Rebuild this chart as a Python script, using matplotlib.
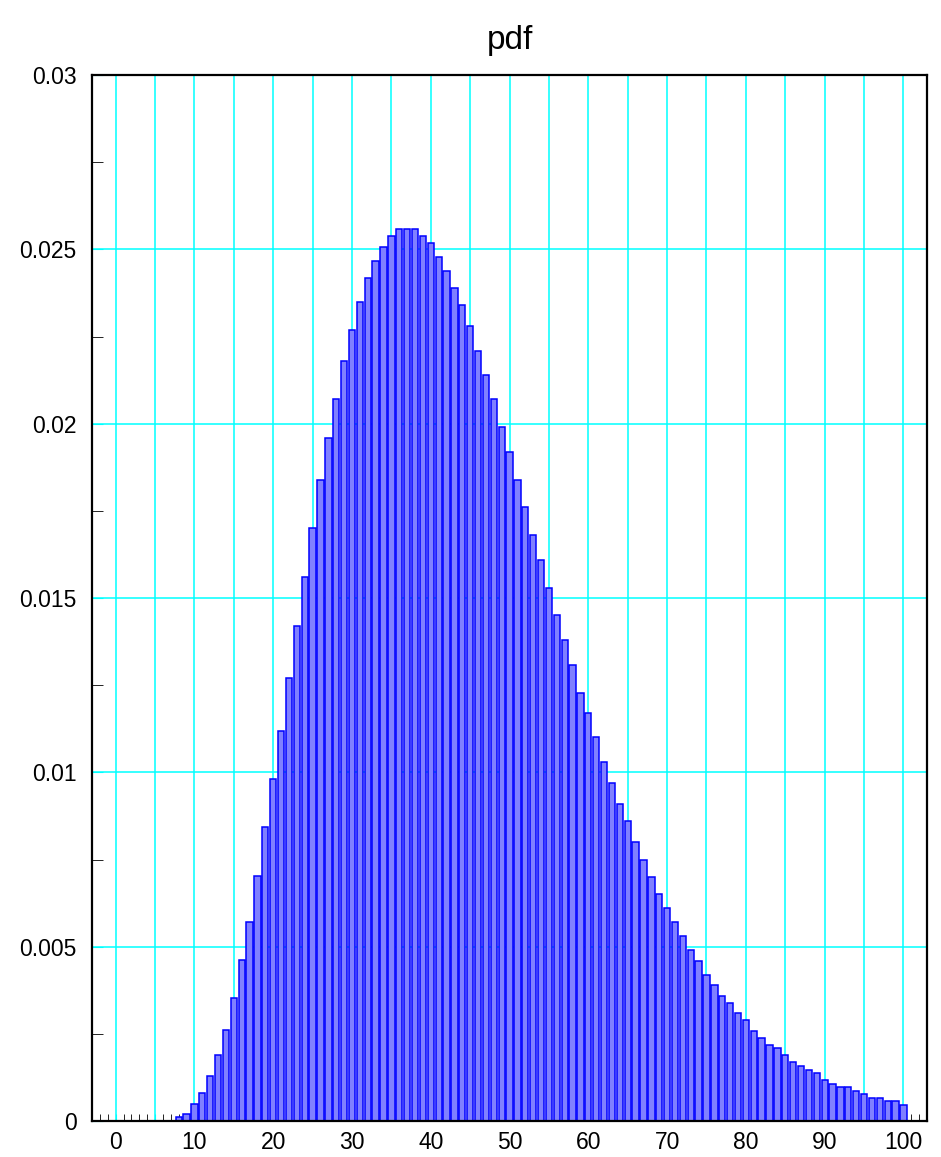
import matplotlib
matplotlib.use('Agg')
import matplotlib.pyplot as plt
from matplotlib.ticker import MultipleLocator

plt.rcParams['font.family'] = ['Liberation Sans', 'DejaVu Sans']

# bin centres and estimated pdf values
x = list(range(8, 101))
pdf = [0.00011, 0.0002, 0.0005, 0.0008, 0.0013, 0.0019, 0.00262, 0.00353, 0.00462, 0.00572,
       0.00702, 0.00842, 0.0098, 0.01119, 0.0127, 0.0142, 0.01559, 0.0170, 0.01839, 0.0196,
       0.0207, 0.0218, 0.02269, 0.02348, 0.02418, 0.02468, 0.02508, 0.02538, 0.02558, 0.02558,
       0.02558, 0.02538, 0.02518, 0.02479, 0.02438, 0.02388, 0.0234, 0.0228, 0.02209, 0.0214,
       0.0207, 0.0199, 0.0192, 0.0184, 0.01761, 0.0168, 0.0161, 0.0153, 0.01451, 0.0138,
       0.01309, 0.01229, 0.0117, 0.01102, 0.01031, 0.0097, 0.0091, 0.0086, 0.0080, 0.0075,
       0.0070, 0.0065, 0.0061, 0.0057, 0.0053, 0.0049, 0.0046, 0.0042, 0.0039, 0.0036,
       0.00339, 0.00309, 0.00289, 0.00259, 0.00239, 0.00219, 0.00208, 0.00188, 0.00168, 0.00158,
       0.00147, 0.00138, 0.00118, 0.00107, 0.00097, 0.00097, 0.00087, 0.00077, 0.00067, 0.00067,
       0.00057, 0.00057, 0.00047]

xticks = list(range(0, 101, 5))
xlabels = [str(v) if v % 10 == 0 else '' for v in xticks]
yticks = [0, 0.005, 0.01, 0.015, 0.02, 0.025, 0.03]
ylabels = ['0', '0.005', '0.01', '0.015', '0.02', '0.025', '0.03']

fig = plt.figure(figsize=(9.41, 11.57), dpi=100)
ax = fig.add_axes([0.0978, 0.0311, 0.8874, 0.904])

ax.bar(x, pdf, width=0.8, color=(0.5, 0.5, 1.0), edgecolor='blue', linewidth=1.1)

ax.set_xlim(-3, 103)
ax.set_ylim(0, 0.03)
ax.set_xticks(xticks)
ax.set_xticklabels(xlabels)
ax.set_yticks(yticks)
ax.set_yticklabels(ylabels)
ax.xaxis.set_minor_locator(MultipleLocator(1))
ax.yaxis.set_minor_locator(MultipleLocator(0.0025))

ax.set_axisbelow(True)
ax.grid(True, which='major', color='cyan', linewidth=1.1)

ax.tick_params(axis='x', which='major', direction='in', length=5, color='cyan',
               labelcolor='black', labelsize=16.5, pad=7, top=False)
ax.tick_params(axis='x', which='minor', direction='in', length=5, color='black', top=False)
ax.tick_params(axis='y', which='major', direction='in', length=8, color='cyan',
               labelcolor='black', labelsize=16.5, pad=11, right=False)
ax.tick_params(axis='y', which='minor', direction='in', length=8, color='black', right=False)

for s in ax.spines.values():
    s.set_linewidth(1.6)
    s.set_color('black')

ax.set_title('pdf', fontsize=24, pad=19)

fig.savefig('out.png', dpi=100)
